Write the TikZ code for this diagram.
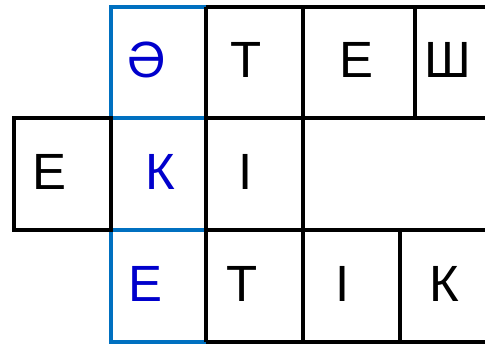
\documentclass[tikz,border=0pt]{standalone}
\usepackage{fontspec}
\setmainfont{Liberation Sans}
\usepackage{xcolor}
\usepackage{tikz}
\usetikzlibrary{positioning}

\definecolor{frameblue}{RGB}{0,112,192}
\definecolor{letterblue}{RGB}{0,0,204}

\begin{document}
\begin{tikzpicture}[
  x=0.02cm, y=-0.02cm,
  gridline/.style={line width=0.08cm, black},
  blueline/.style={line width=0.08cm, frameblue},
  letter/.style={inner sep=0pt, font=\fontsize{29}{29}\selectfont},
  bletter/.style={letter, text=letterblue}
]
\clip (0,0) rectangle (485,346);
% blue column
\draw[blueline] (111,7) rectangle (206,342);
\draw[blueline] (111,118) -- (206,118);
\draw[blueline] (111,230) -- (206,230);
% black cells
\draw[gridline] (206,7) -- (530,7);
\draw[gridline] (206,118) -- (530,118);
\draw[gridline] (206,230) -- (530,230);
\draw[gridline] (206,342) -- (530,342);
\draw[gridline] (206,7) -- (206,342);
\draw[gridline] (303,7) -- (303,342);
\draw[gridline] (415,7) -- (415,118);
\draw[gridline] (400,230) -- (400,342);
\draw[gridline] (14,118) rectangle (111,230);
% letters
\node[bletter] (schwa) at (147,60) {Ә};
\node[letter] (t1) at (246,60) {Т};
\node[letter] (e1) at (356,60) {Е};
\node[letter] (sha) at (447.5,60) {Ш};
\node[letter] (e2) at (49.5,172) {Е};
\node[bletter] (k1) at (160.5,172) {К};
\node[letter] (i1) at (246,172) {І};
\node[bletter] (e3) at (145.5,284) {Е};
\node[letter] (t2) at (242,284) {Т};
\node[letter] (i2) at (343,284) {І};
\node[letter] (k2) at (444.5,284) {К};
\end{tikzpicture}
\end{document}
